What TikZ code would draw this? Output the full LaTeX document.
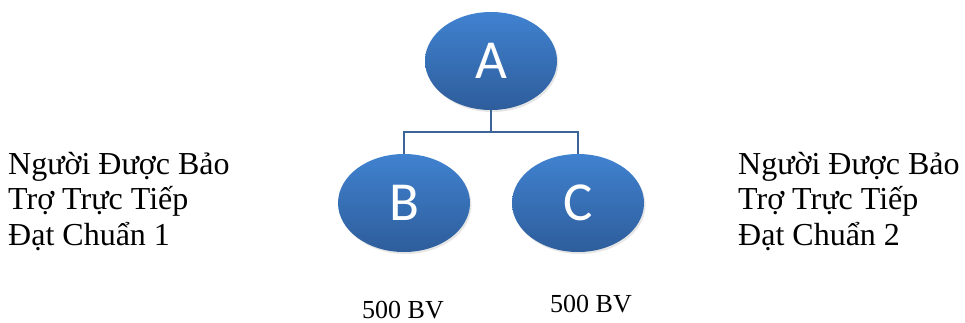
\documentclass[tikz,border=0pt]{standalone}
\usepackage{fontspec}
\setmainfont{Liberation Serif}
\newfontfamily\carlito{Carlito}
\usetikzlibrary{shapes.geometric,shadows}
\definecolor{topblue}{HTML}{4082D0}
\definecolor{botblue}{HTML}{2E5D9B}
\definecolor{linkblue}{HTML}{3B6498}
\tikzset{
  bubble/.style={ellipse, minimum width=132pt, minimum height=98pt, inner sep=0pt,
    top color=topblue, bottom color=botblue, draw=none, text=white,
    font=\carlito\fontsize{55}{58}\selectfont,
    drop shadow={shadow xshift=1.5pt, shadow yshift=-2pt, opacity=0.2}},
  link/.style={draw=linkblue, line width=1.3pt},
  side/.style={anchor=north west, align=left, inner sep=0pt,
    font=\fontsize{32}{35.5}\selectfont},
  count/.style={anchor=base west, inner sep=0pt, font=\fontsize{26}{28}\selectfont}
}
\begin{document}
\begin{tikzpicture}[x=1pt,y=-1pt]
\useasboundingbox (0,0) rectangle (965,322);
\node[bubble] (A) at (491,61) {A};
\node[bubble] (B) at (404,203) {B};
\node[bubble] (C) at (578,203) {C};
\coordinate (j) at (491,132);
\draw[link] (A.south) -- (j);
\draw[link] (B.north) |- (j) -| (C.north);
\node[side] (L) at (8,152) {Người Được Bảo\\Trợ Trực Tiếp\\Đạt Chuẩn 1};
\node[side] (R) at (738,152) {Người Được Bảo\\Trợ Trực Tiếp\\Đạt Chuẩn 2};
\node[count] (nb) at (362,318) {500 BV};
\node[count] (nc) at (550,312) {500 BV};
\end{tikzpicture}
\end{document}
